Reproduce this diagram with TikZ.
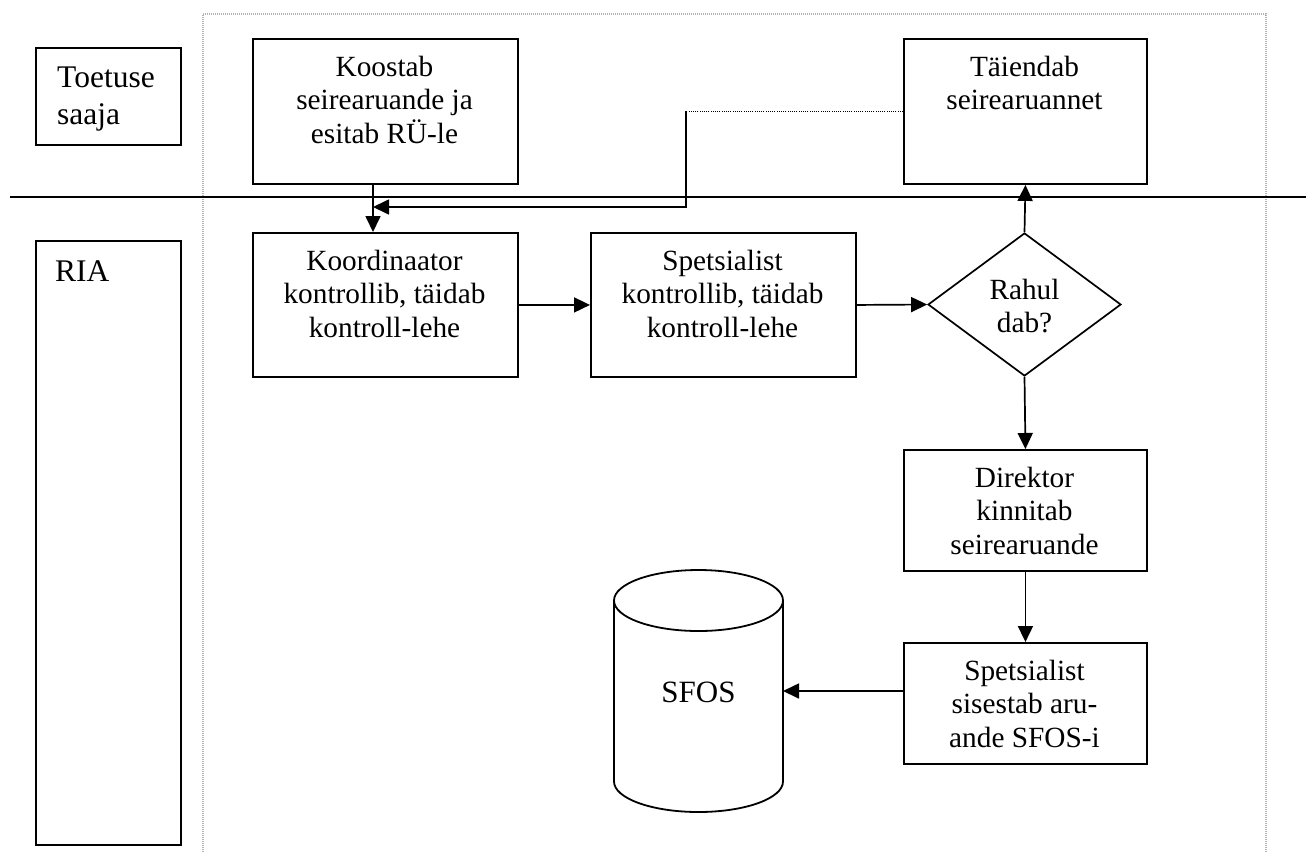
\documentclass[tikz,border=0pt]{standalone}
\usepackage{fontspec}
\setmainfont{Liberation Serif}
\usetikzlibrary{arrows.meta,shapes.geometric}
\newcommand{\fstrut}{\rule{0pt}{24pt}}
\begin{document}
\begin{tikzpicture}[x=1pt,y=-1pt,
  boxs/.style={draw, line width=1.9pt, inner sep=0pt, anchor=north west},
  txt/.style={inner sep=0pt, align=center, anchor=north, font=\fontsize{29.3}{33.5}\selectfont},
  side/.style={inner sep=0pt, align=left, anchor=north west, font=\fontsize{31.5}{37}\selectfont},
  arr/.style={line width=1.7pt, -{Triangle[length=16pt,width=15pt]}},
  conn/.style={line width=1.7pt}]
\useasboundingbox (0,0) rectangle (1306,852);
% dotted frame and lane separator
\draw[gray!60, line width=1.1pt, dash pattern=on 1pt off 1pt] (203,852) -- (203,14) -- (1266,14) -- (1266,852);
\draw[conn] (10,197) -- (1306,197);
% lane labels
\node[boxs, minimum width=145, minimum height=97] (toet) at (35,47) {};
\node[side] (toettxt) at (57,87-24) {\fstrut Toetuse\\saaja};
\node[boxs, minimum width=145, minimum height=604] (ria) at (35,240) {};
\node[inner sep=0pt, anchor=base west, font=\fontsize{31.5}{37}\selectfont] (riatxt) at (55,281) {RIA};
% process boxes
\node[boxs, minimum width=265, minimum height=145] (koostab) at (252,38) {};
\node[txt] (koostabtxt) at (384.5,76-24) {\fstrut Koostab\\seirearuande ja\\esitab RÜ-le};
\node[boxs, minimum width=243, minimum height=145] (taiendab) at (903,38) {};
\node[txt] (taiendabtxt) at (1024.5,76-24) {\fstrut Täiendab\\seirearuannet};
\node[boxs, minimum width=265, minimum height=144] (koord) at (252,232) {};
\node[txt] (koordtxt) at (384.5,270-24) {\fstrut Koordinaator\\kontrollib, täidab\\kontroll-lehe};
\node[boxs, minimum width=265, minimum height=144] (spets) at (590,232) {};
\node[txt] (spetstxt) at (722.5,270-24) {\fstrut Spetsialist\\kontrollib, täidab\\kontroll-lehe};
\node[diamond, draw, line width=1.7pt, inner sep=0pt, minimum width=193, minimum height=143] (dia) at (1024.5,304.5) {};
\node[txt] (diatxt) at (1024.5,299-24) {\fstrut Rahul\\dab?};
\node[boxs, minimum width=243, minimum height=121] (dir) at (903,449) {};
\node[txt] (dirtxt) at (1024.5,487-24) {\fstrut Direktor\\kinnitab\\seirearuande};
\node[boxs, minimum width=243, minimum height=121] (sis) at (903,642) {};
\node[txt] (sistxt) at (1024.5,680-24) {\fstrut Spetsialist\\sisestab aru-\\ande SFOS-i};
% cylinder
\node[inner sep=0pt, outer sep=0pt, minimum width=169, minimum height=242] (sfos) at (698.5,691) {};
\draw[line width=1.8pt] (698.5,600.5) ellipse [x radius=84.5, y radius=30.5];
\draw[line width=1.8pt] (614,600.5) -- (614,781.5)
  .. controls (614,798.35) and (651.83,812) .. (698.5,812)
  .. controls (745.17,812) and (783,798.35) .. (783,781.5) -- (783,600.5);
\node[inner sep=0pt, anchor=base, font=\fontsize{31}{37}\selectfont] (sfostxt) at (698.5,702) {SFOS};
% connectors
\coordinate (cx) at (373,0);
\coordinate (fb) at (686,207);
\draw[arr] (koostab.south -| cx) -- (koord.north -| cx);
\draw[line width=1.1pt, dash pattern=on 1pt off 1.2pt] (taiendab.west) -- (taiendab.west -| fb);
\draw[arr] (taiendab.west -| fb) -- (fb) -- (fb -| cx);
\draw[arr] (koord.east) -- (spets.west);
\draw[arr] (spets.east) -- (dia.west);
\draw[arr] (dia.north) -- (taiendab.south);
\draw[arr] (dia.south) -- (dir.north);
\draw[arr] (dir.south) -- (sis.north);
\draw[arr] (sis.west |- sfos.east) -- (sfos.east);
\end{tikzpicture}
\end{document}
